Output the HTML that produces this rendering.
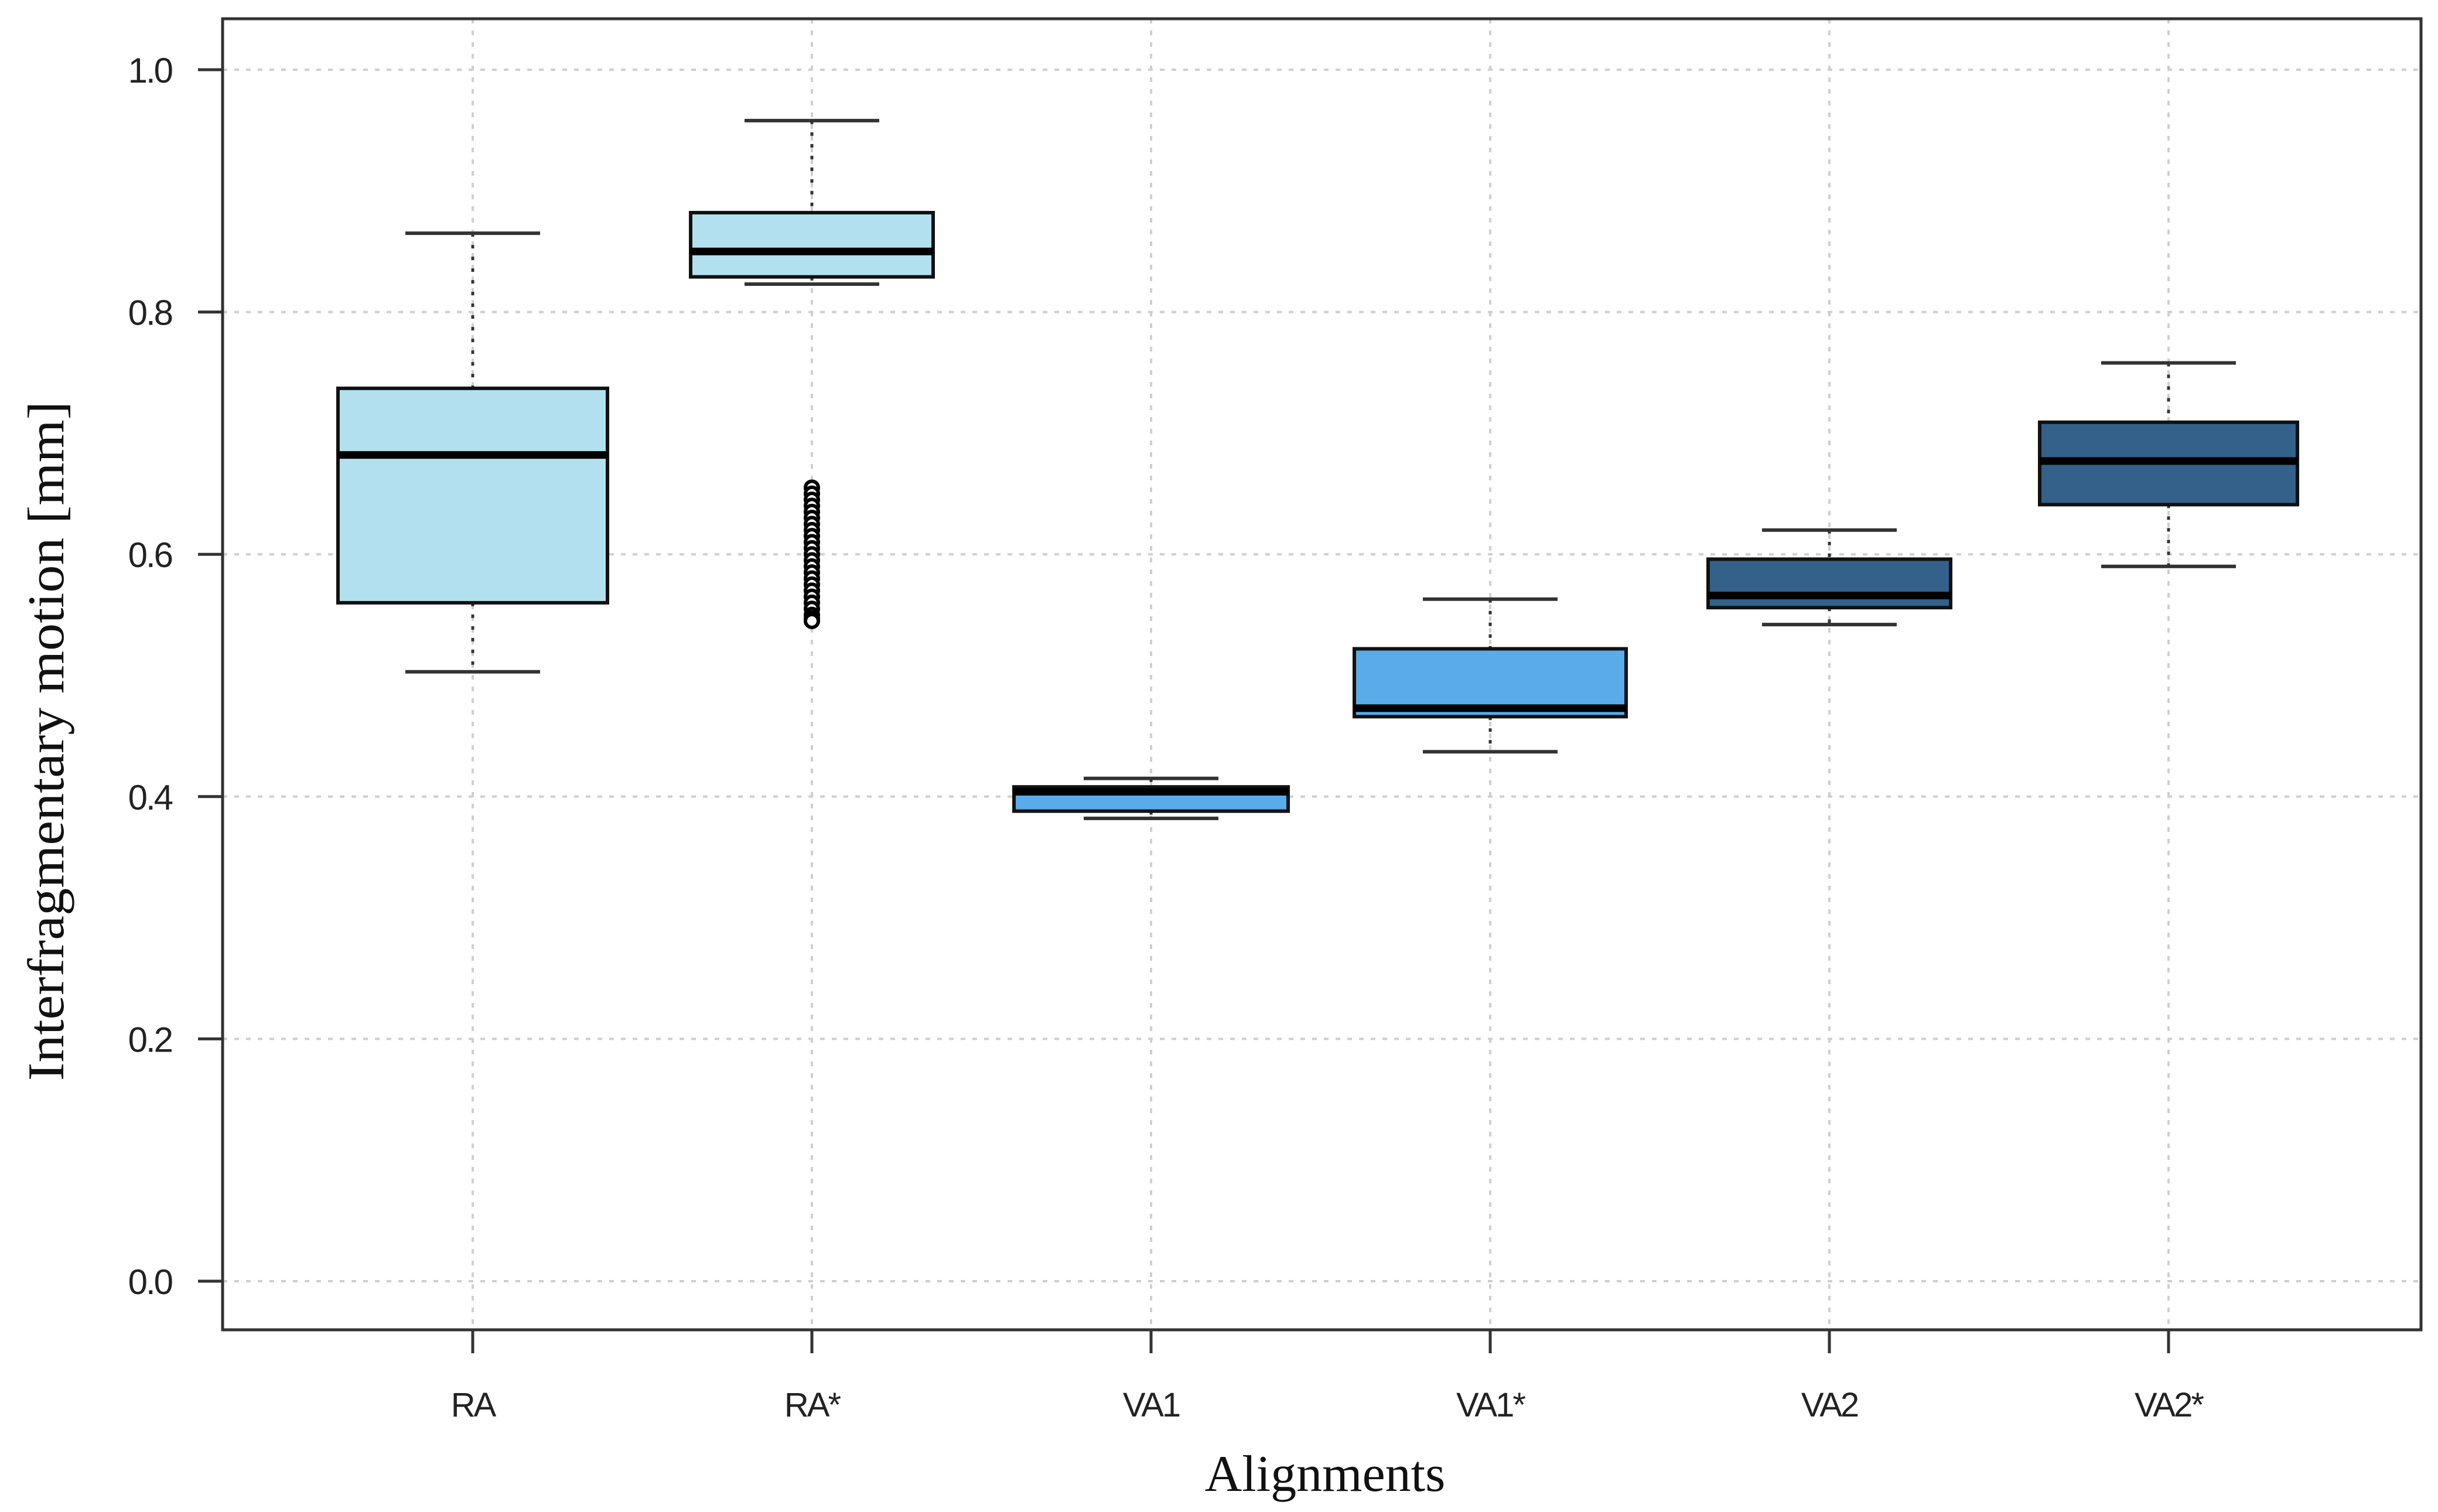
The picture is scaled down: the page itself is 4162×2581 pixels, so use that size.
<!DOCTYPE html>
<html><head><meta charset="utf-8"><style>
html,body{margin:0;padding:0;background:#fff;}
svg{display:block;}
</style></head><body>
<svg id="chart" width="4162" height="2581" viewBox="0 0 4162 2581" xmlns="http://www.w3.org/2000/svg">
<g id="grid"></g>
<g id="boxes"></g>
<rect x="380" y="32" width="3753" height="2238" fill="none" stroke="#333" stroke-width="5"/>
<g id="axes"></g>
<text x="2262" y="2545" text-anchor="middle" font-family="'Liberation Serif',serif" font-size="88" fill="#111">Alignments</text>
<text transform="translate(108,1265) rotate(-90)" text-anchor="middle" font-family="'Liberation Serif',serif" font-size="88" fill="#111" textLength="1160" lengthAdjust="spacingAndGlyphs">Interfragmentary motion  [mm]</text>
</svg>
<script>
const categories = ["RA","RA*","VA1","VA1*","VA2","VA2*"];
const whiskerHigh = [0.865,0.958,0.415,0.563,0.620,0.758];
const q3 = [0.737,0.882,0.408,0.522,0.596,0.709];
const medians = [0.682,0.850,0.404,0.473,0.566,0.677];
const q1 = [0.560,0.829,0.388,0.466,0.556,0.641];
const whiskerLow = [0.503,0.823,0.382,0.437,0.542,0.590];
const outlierCategory = [1,1,1,1,1,1,1,1,1,1,1,1,1,1,1,1,1,1,1,1,1,1,1,1];
const outlierValues = [0.655,0.650,0.645,0.640,0.635,0.630,0.625,0.620,0.615,0.610,0.605,0.600,0.595,0.590,0.585,0.580,0.575,0.570,0.565,0.560,0.555,0.550,0.547,0.545];
const yTicks = [0.0,0.2,0.4,0.6,0.8,1.0];
const yTickLabels = ["0.0","0.2","0.4","0.6","0.8","1.0"];
const boxColors = ["#b3e0ee","#b3e0ee","#5aabea","#5aabea","#33618a","#33618a"];
const boxHalf = [230,207,234,232,207,220];

const NS = "http://www.w3.org/2000/svg";
const PL=380, PR=4133, PT=32, PB=2270;
function yScale(v){ return 2187 - v*2068; }
function xScale(i){ return 807 + i*579; }
function mk(tag, attrs, parent){
  const e=document.createElementNS(NS,tag);
  for(const k in attrs) e.setAttribute(k, attrs[k]);
  parent.appendChild(e); return e;
}
const grid=document.getElementById('grid');
const boxes=document.getElementById('boxes');
const axes=document.getElementById('axes');

yTicks.forEach((t,i)=>{
  const y=yScale(t);
  const g=mk('line',{x1:PL,x2:PR,y1:y,y2:y,stroke:'#cfcfcf','stroke-width':4,'stroke-dasharray':'8 12'},grid);
  
  
  const tk=mk('line',{x1:PL-42,x2:PL,y1:y,y2:y,stroke:'#333','stroke-width':5},axes);
  
  
  const tx=mk('text',{x:293,y:y+22,'text-anchor':'end','font-family':"'Liberation Sans',sans-serif",'font-size':60,fill:'#222','letter-spacing':-3},axes);
  tx.textContent=yTickLabels[i];
  
  
});
categories.forEach((c,i)=>{
  const x=xScale(i);
  const g=mk('line',{x1:x,x2:x,y1:PT,y2:PB,stroke:'#cfcfcf','stroke-width':4,'stroke-dasharray':'8 12'},grid);
  
  
  const tk=mk('line',{x1:x,x2:x,y1:PB,y2:PB+40,stroke:'#333','stroke-width':5},axes);
  
  
  const tx=mk('text',{x:x,y:2418,'text-anchor':'middle','font-family':"'Liberation Sans',sans-serif",'font-size':58,fill:'#222','letter-spacing':-3},axes);
  tx.textContent=c;
  
  

  const grp=mk('g',{},boxes);
  
  
  const h=boxHalf[i];
  const wu=mk('line',{x1:x,x2:x,y1:yScale(whiskerHigh[i]),y2:yScale(q3[i]),stroke:'#333','stroke-width':5,'stroke-dasharray':'6 14'},grp);
  
  
  const wl=mk('line',{x1:x,x2:x,y1:yScale(q1[i]),y2:yScale(whiskerLow[i]),stroke:'#333','stroke-width':5,'stroke-dasharray':'6 14'},grp);
  
  
  const cu=mk('line',{x1:x-115,x2:x+115,y1:yScale(whiskerHigh[i]),y2:yScale(whiskerHigh[i]),stroke:'#333','stroke-width':6},grp);
  
  
  const cl=mk('line',{x1:x-115,x2:x+115,y1:yScale(whiskerLow[i]),y2:yScale(whiskerLow[i]),stroke:'#333','stroke-width':6},grp);
  
  
  const r=mk('rect',{x:x-h,y:yScale(q3[i]),width:2*h,height:yScale(q1[i])-yScale(q3[i]),fill:boxColors[i],stroke:'#111','stroke-width':6},grp);
  
  
  const m=mk('line',{x1:x-h,x2:x+h,y1:yScale(medians[i]),y2:yScale(medians[i]),stroke:'#000','stroke-width':13},grp);
  
  
});
outlierValues.forEach((v,j)=>{
  const c=mk('circle',{cx:xScale(outlierCategory[j]),cy:yScale(v),r:11,fill:'#fff',stroke:'#000','stroke-width':6},boxes);
  
  
});
</script>
</body></html>
